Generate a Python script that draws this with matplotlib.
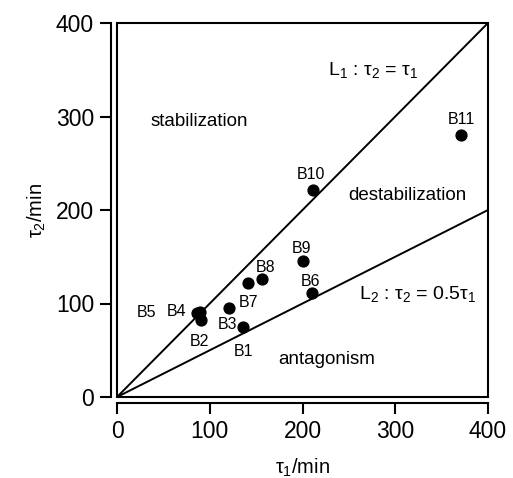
import matplotlib
matplotlib.use("Agg")
import matplotlib.pyplot as plt
from matplotlib.patches import Rectangle

plt.rcParams['font.family'] = ['Liberation Sans', 'DejaVu Sans']
plt.rcParams['mathtext.fontset'] = 'custom'
plt.rcParams['mathtext.rm'] = 'Liberation Sans'
plt.rcParams['mathtext.it'] = 'Liberation Sans'

# data
names = ["B1", "B2", "B3", "B4", "B5", "B6", "B7", "B8", "B9", "B10", "B11"]
tau1 = [136, 91, 121, 90, 86, 210, 141, 156, 200, 211, 371]
tau2 = [75, 82, 95, 91, 90, 111, 122, 126, 145, 221, 280]
ticks = [0, 100, 200, 300, 400]
line_x = [0, 400]
slope1 = 1.0
slope2 = 0.5

# label offsets in pixels (dx, dy)
label_offsets = {
    "B1": (0, -25), "B2": (-2, -21), "B3": (-2, -16), "B4": (-24, 0), "B5": (-50, 0),
    "B6": (-1, 12), "B7": (1, -20), "B8": (4, 12), "B9": (-1, 13), "B10": (-2, 16),
    "B11": (0, 16),
}

W, H = 513, 478
fig = plt.figure(figsize=(W / 100, H / 100), dpi=100)
ax = fig.add_axes([117 / W, 1 - 397 / H, 371 / W, 374 / H])

ax.plot(line_x, [slope1 * v for v in line_x], color="black", lw=1.4, solid_capstyle="butt", clip_on=False)
ax.plot(line_x, [slope2 * v for v in line_x], color="black", lw=1.4, solid_capstyle="butt", clip_on=False)
ax.plot(tau1, tau2, "o", color="black", ms=7.8, clip_on=False)

for n, x, y in zip(names, tau1, tau2):
    dx, dy = label_offsets[n]
    ax.annotate(n, (x, y), xytext=(dx, dy), textcoords="offset pixels",
                ha="center", va="center", fontsize=11.5)

ax.set_xlim(0, 400)
ax.set_ylim(0, 400)
ax.set_xticks(ticks)
ax.set_yticks(ticks)
ax.tick_params(direction="out", length=8, width=1.5, labelsize=16.5, pad=4)

for s in ["top", "right"]:
    ax.spines[s].set_visible(False)
for s in ["left", "bottom"]:
    ax.spines[s].set_position(("outward", 4.5))
    ax.spines[s].set_linewidth(1.5)
    ax.spines[s].set_bounds(0, 400)

ax.add_patch(Rectangle((0, 0), 1, 1, transform=ax.transAxes, fill=False,
                       lw=1.5, edgecolor="black", clip_on=False))

ax.set_xlabel(r"$\tau_1$/min", fontsize=14.5, labelpad=10)
ax.set_ylabel(r"$\tau_2$/min", fontsize=14.5, labelpad=6)

ax.text(89, 295, "stabilization", ha="center", va="center", fontsize=13.5)
ax.text(313, 215, "destabilization", ha="center", va="center", fontsize=13.5)
ax.text(226, 40, "antagonism", ha="center", va="center", fontsize=13.5)
ax.text(276, 350, r"L$_1$ : $\tau_2$ = $\tau_1$", ha="center", va="center", fontsize=14)
ax.text(324, 110, r"L$_2$ : $\tau_2$ = 0.5$\tau_1$", ha="center", va="center", fontsize=14)

fig.savefig("out.png", dpi=100)
